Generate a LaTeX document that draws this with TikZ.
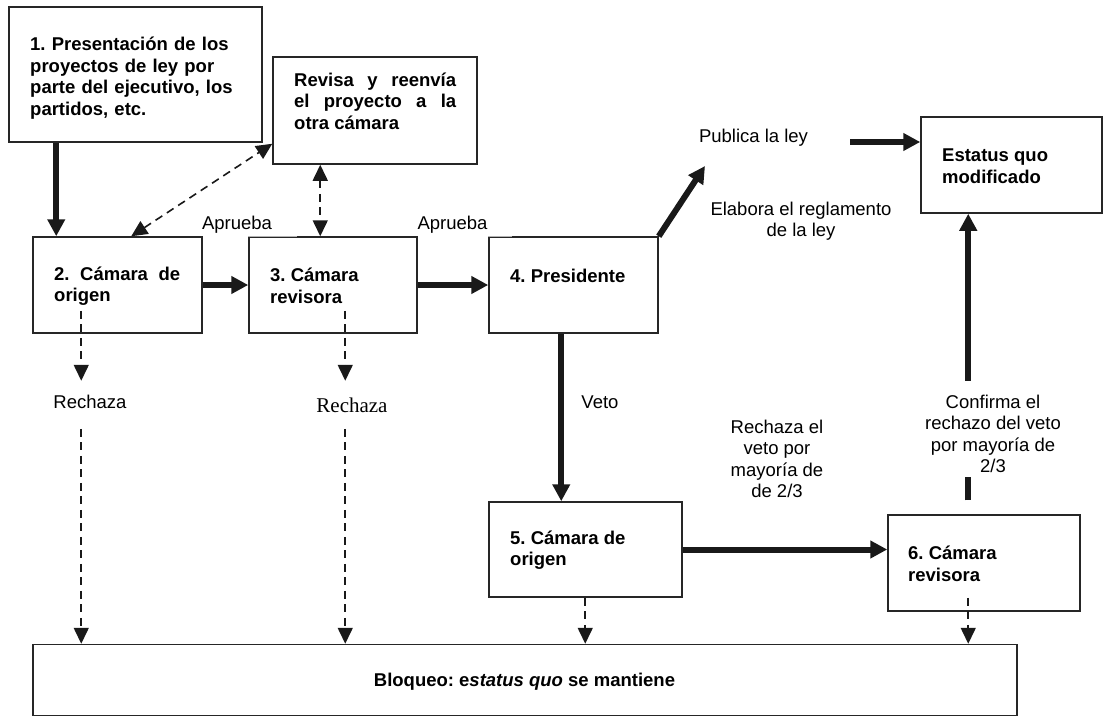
\documentclass[tikz,border=0pt]{standalone}
\usepackage{fontspec}
\setmainfont{Liberation Sans}
\newfontfamily\serifrm{Liberation Serif}
\usetikzlibrary{arrows.meta}
\frenchspacing
\begin{document}
\begin{tikzpicture}[x=1pt,y=-1pt,
  box/.style={draw=black!85, line width=1.5pt, inner sep=0pt},
  btxt/.style={font=\bfseries\fontsize{18.5}{21.5}\selectfont, inner sep=0pt, align=left, anchor=west},
  ltxt/.style={font=\fontsize{18.5}{21.3}\selectfont, inner sep=0pt, align=center},
  thk/.style={line width=6pt, draw=black!90, -{Triangle[length=17pt,width=17pt]}},
  thkline/.style={line width=6pt, draw=black!90},
  dsh/.style={line width=1.6pt, draw=black!90, dash pattern=on 8pt off 5.5pt, -{Triangle[length=16pt,width=15pt]}},
  dshtwo/.style={line width=1.6pt, draw=black!90, dash pattern=on 8pt off 5.5pt, {Triangle[length=16pt,width=15pt]}-{Triangle[length=16pt,width=15pt]}},
  faint/.style={draw=black!30, line width=1.5pt}
]
\useasboundingbox (0,0) rectangle (1104,717);

% boxes
\node[box, minimum width=253pt, minimum height=135pt] (b1) at (135.5,74.5) {};
\node[box, minimum width=204pt, minimum height=107pt] (rev) at (375,110.5) {};
\node[box, minimum width=169pt, minimum height=96pt] (b2) at (117.5,285) {};
\node[box, minimum width=168pt, minimum height=96pt] (b3) at (333,285) {};
\node[box, minimum width=169pt, minimum height=96pt] (b4) at (573.5,285) {};
\node[box, minimum width=181pt, minimum height=96pt] (est) at (1011.5,165) {};
\node[box, minimum width=193pt, minimum height=95pt] (b5) at (585.5,549.5) {};
\node[box, minimum width=192pt, minimum height=96pt] (b6) at (984,563) {};
\node[box, minimum width=984pt, minimum height=71pt] (blk) at (525,680) {};

% lighter top edges
\draw[faint] (b3.north west) -- ([xshift=49pt]b3.north west);
\draw[faint] (b4.north west) -- ([xshift=24pt]b4.north west);

% box texts
\node[btxt, text width=220pt] (t1) at (30,78) {1. Presentación de los\\proyectos de ley por\\parte del ejecutivo, los\\partidos, etc.};
\node[btxt] (trev) at (294,101) {\makebox[162pt][s]{Revisa y reenvía}\\\makebox[162pt][s]{el proyecto a la}\\otra cámara};
\node[btxt] (t2) at (54,286) {\makebox[126pt][s]{2. Cámara de}\\origen};
\node[btxt] (t3) at (270,286) {3. Cámara\\revisora};
\node[btxt] (t4) at (510,276) {4. Presidente};
\node[btxt] (test) at (942,166) {Estatus quo\\modificado};
\node[btxt] (t5) at (510,550) {5. Cámara de\\origen};
\node[btxt] (t6) at (908,564) {6. Cámara\\revisora};
\node[btxt, anchor=center] (tblk) at (524.5,682) {Bloqueo: e\textit{status quo} se mantiene};

% labels
\node[ltxt] (ap1) at (237,225) {Aprueba};
\node[ltxt] (ap2) at (452.5,225) {Aprueba};
\node[ltxt] (pub) at (753.5,138) {Publica la ley};
\node[ltxt] (elab) at (801,221) {Elabora el reglamento\\de la ley};
\node[ltxt] (veto) at (600,402) {Veto};
\node[ltxt] (rech56) at (777,459) {Rechaza el\\veto por\\mayoría de\\de 2/3};
\node[ltxt] (conf) at (993,434) {Confirma el\\rechazo del veto\\por mayoría de\\2/3};
\node[ltxt] (r1) at (90,402) {Rechaza};
\node[ltxt, font=\serifrm\fontsize{21}{24}\selectfont] (r2) at (352,405) {Rechaza};

\coordinate (pubtip) at (705,166);
\coordinate (pubout) at (850,142);

% connectors
\draw[thk] ([xshift=24pt]b2.north west |- b1.south) -- ([xshift=24pt]b2.north west);
\draw[dshtwo] ([xshift=99pt]b2.north west) -- ([yshift=21pt]rev.south west);
\draw[dshtwo] ([xshift=48pt]rev.south west) -- ([xshift=72pt]b3.north west);
\draw[thk] (b2.east) -- (b3.west);
\draw[thk] (b3.east) -- (b4.west);
\draw[thk] (b4.north east) -- (pubtip);
\draw[thk] (pubout) -- (pubout -| est.west);
\draw[thk] ([xshift=73pt]b4.south west) -- ([xshift=73pt]b5.north west);
\draw[thk] (b5.east) -- (b5.east -| b6.west);
\draw[thkline] ([xshift=81pt,yshift=14pt]b6.north west) -- ([xshift=81pt,yshift=37pt]b6.north west);
\draw[thk] ([xshift=48pt,yshift=-167pt]est.south west) -- ([xshift=48pt]est.south west);

\draw[dsh] ([xshift=49pt,yshift=23pt]b2.south west) -- ([xshift=49pt,yshift=-47pt]b2.south west);
\draw[dsh] ([xshift=49pt,yshift=-95pt]b2.south west) -- ([xshift=49pt]b2.south west |- blk.north);
\draw[dsh] ([xshift=97pt,yshift=23pt]b3.south west) -- ([xshift=97pt,yshift=-47pt]b3.south west);
\draw[dsh] ([xshift=97pt,yshift=-95pt]b3.south west) -- ([xshift=97pt]b3.south west |- blk.north);
\draw[dsh] ([xshift=97pt]b5.south west) -- ([xshift=97pt]b5.south west |- blk.north);
\draw[dsh] ([xshift=81pt,yshift=14pt]b6.south west) -- ([xshift=81pt]b6.south west |- blk.north);
\end{tikzpicture}
\end{document}
